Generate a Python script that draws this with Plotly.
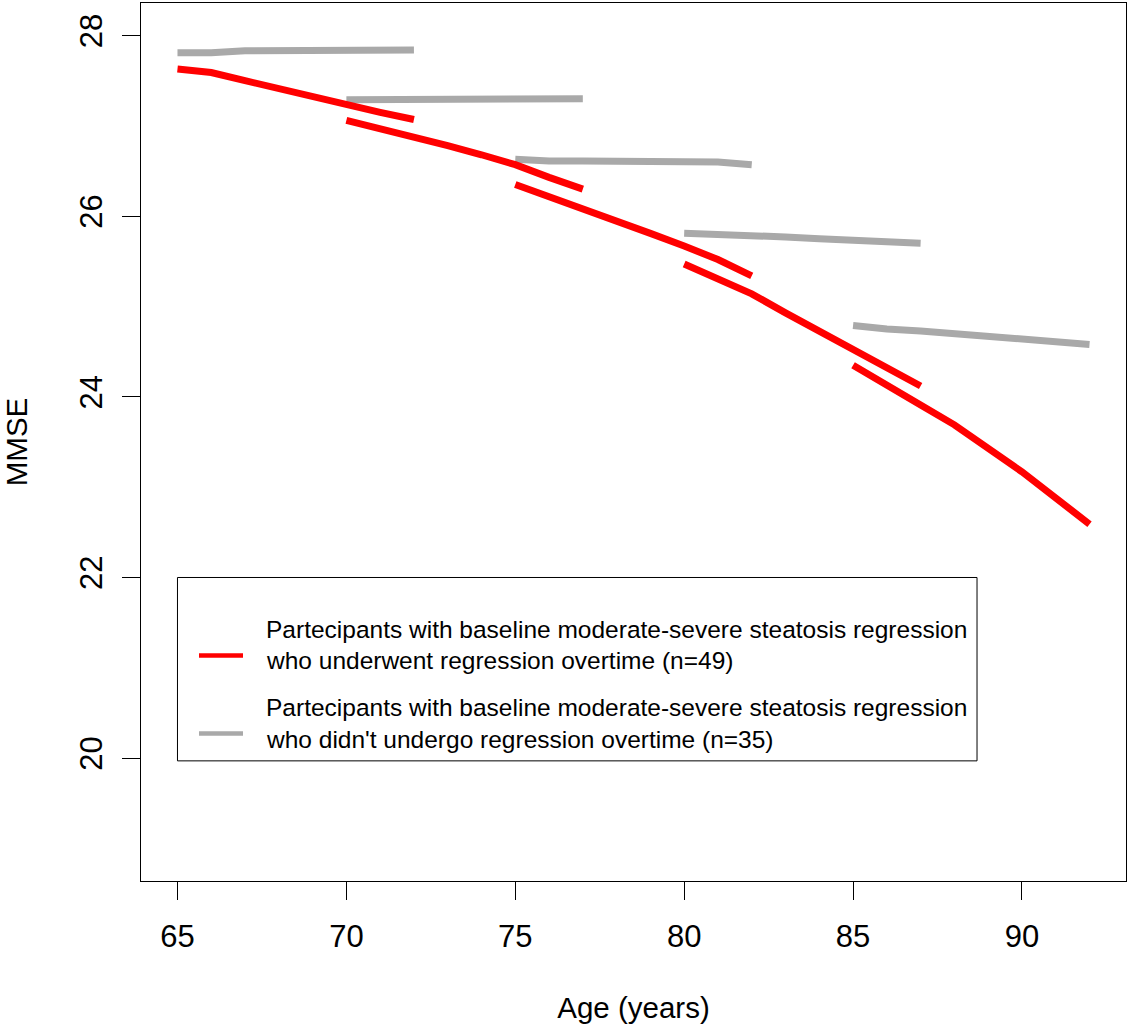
import plotly.graph_objects as go

# ---- data ----
segment_starts = [65, 70, 75, 80, 85]
offsets = [0, 1, 2, 3, 4, 5, 6, 7]

red_65 = [27.63, 27.59, 27.50, 27.41, 27.32, 27.23, 27.15, 27.07]
red_70 = [27.06, 26.97, 26.87, 26.78, 26.68, 26.57, 26.43, 26.30]
red_75 = [26.35, 26.22, 26.08, 25.95, 25.81, 25.67, 25.52, 25.34]
red_80 = [25.47, 25.30, 25.14, 24.93, 24.73, 24.53, 24.33, 24.12]
red_85 = [24.35, 24.14, 23.91, 23.69, 23.43, 23.17, 22.88, 22.59]

grey_65 = [27.81, 27.81, 27.83, 27.83, 27.83, 27.84, 27.84, 27.84]
grey_70 = [27.29, 27.29, 27.29, 27.29, 27.29, 27.29, 27.29, 27.30]
grey_75 = [26.63, 26.61, 26.61, 26.61, 26.60, 26.60, 26.60, 26.57]
grey_80 = [25.81, 25.80, 25.79, 25.77, 25.75, 25.73, 25.72, 25.70]
grey_85 = [24.79, 24.75, 24.73, 24.70, 24.66, 24.63, 24.61, 24.58]

red_series = [red_65, red_70, red_75, red_80, red_85]
grey_series = [grey_65, grey_70, grey_75, grey_80, grey_85]

x_ticks = [65, 70, 75, 80, 85, 90]
y_ticks = [20, 22, 24, 26, 28]

legend_labels = [
    ["Partecipants with baseline moderate-severe steatosis regression",
     "who underwent regression overtime (n=49)"],
    ["Partecipants with baseline moderate-severe steatosis regression",
     "who didn't undergo regression overtime (n=35)"],
]

RED = "#FF0000"
GREY = "#A9A9A9"
FONT = "Liberation Sans, Arial, Helvetica, sans-serif"

fig = go.Figure()

for start, ys in zip(segment_starts, grey_series):
    fig.add_trace(go.Scatter(x=[start + o for o in offsets], y=ys, mode="lines",
                             line=dict(color=GREY, width=7), showlegend=False,
                             hoverinfo="skip"))
for start, ys in zip(segment_starts, red_series):
    fig.add_trace(go.Scatter(x=[start + o for o in offsets], y=ys, mode="lines",
                             line=dict(color=RED, width=7), showlegend=False,
                             hoverinfo="skip"))

# ---- manual legend (R-style box) ----
W, H = 1129, 1027
L, R, T, B = 141, 3, 3, 146
pw, ph = W - L - R, H - T - B


def px(x):
    return (x - L) / pw


def py(y):
    return (H - B - y) / ph


shapes = [
    dict(type="rect", xref="x", yref="y", x0=65, x1=88.67, y0=19.97, y1=22.0,
         line=dict(color="black", width=1), fillcolor="white", layer="below"),
    dict(type="line", xref="paper", yref="paper", x0=px(199), x1=px(243),
         y0=py(655.5), y1=py(655.5), line=dict(color=RED, width=4.5)),
    dict(type="line", xref="paper", yref="paper", x0=px(199), x1=px(243),
         y0=py(733.5), y1=py(733.5), line=dict(color=GREY, width=4.5)),
]

annotations = []
baselines = [[638, 669.5], [716.5, 748]]
for group, bl in zip(legend_labels, baselines):
    for text, b in zip(group, bl):
        annotations.append(dict(
            xref="paper", yref="paper", x=px(264), y=py(b - 9),
            text=text, showarrow=False, xanchor="left", yanchor="middle",
            font=dict(family=FONT, size=24.5, color="black")))

fig.update_layout(
    width=W, height=H,
    margin=dict(l=L, r=R, t=T, b=B, pad=0),
    paper_bgcolor="white", plot_bgcolor="white",
    font=dict(family=FONT, color="black"),
    shapes=shapes, annotations=annotations,
    showlegend=False,
    xaxis=dict(range=[63.92, 93.08], tickmode="array", tickvals=x_ticks,
               ticktext=[str(v) for v in x_ticks],
               showgrid=False, zeroline=False, showline=True, mirror=True,
               linecolor="black", linewidth=1, ticks="outside", ticklen=18,
               tickwidth=1, tickcolor="black", tickfont=dict(size=31),
               ticklabelstandoff=10,
               title=dict(text="Age (years)", font=dict(size=29.5), standoff=44)),
    yaxis=dict(range=[18.64, 28.36], tickmode="array", tickvals=y_ticks,
               ticktext=[str(v) for v in y_ticks],
               showgrid=False, zeroline=False, showline=True, mirror=True,
               linecolor="black", linewidth=1, ticks="outside", ticklen=18,
               tickwidth=1, tickcolor="black", tickfont=dict(size=31),
               tickangle=-90, ticklabelstandoff=8,
               title=dict(text="MMSE", font=dict(size=29.5), standoff=40)),
)

fig.write_html("out.html")
